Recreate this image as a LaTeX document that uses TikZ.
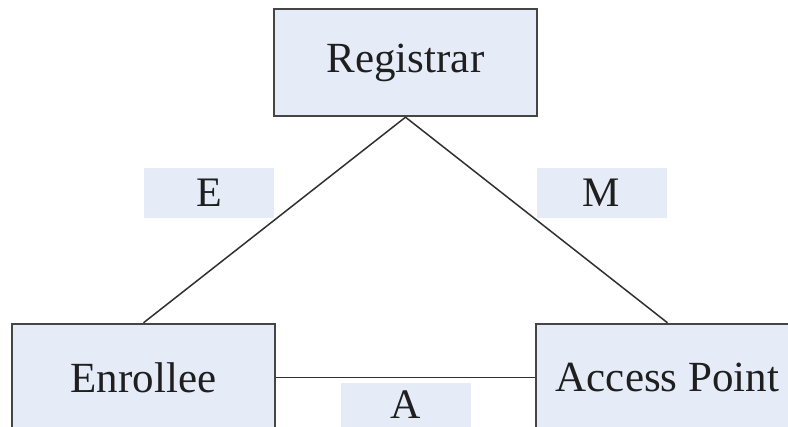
\documentclass[tikz,border=0pt]{standalone}
\usepackage{fontspec}
\setmainfont{Liberation Serif}
\definecolor{boxfill}{HTML}{E6ECF7}
\definecolor{boxline}{HTML}{454545}
\definecolor{linkline}{HTML}{303030}
\begin{document}
\begin{tikzpicture}[x=1pt,y=1pt,
  entity/.style={draw=boxline, line width=2.4pt, fill=boxfill,
    minimum width=263pt, minimum height=107pt, inner sep=0pt,
    font=\fontsize{43}{50}\selectfont, text=black!88},
  tag/.style={fill=boxfill, minimum width=130pt, minimum height=50pt,
    inner sep=0pt, font=\fontsize{42}{48}\selectfont, text=black!88},
  link/.style={draw=linkline, line width=1.5pt}]
  \useasboundingbox (0,0) rectangle (788,427);
  \clip (0,0) rectangle (788,427);
  \fill[white] (0,0) rectangle (788,427);

  % parties
  \node[entity] (reg) at (405.5,364.5) {Registrar};
  \node[entity] (enr) at (143.5,49.5) {Enrollee};
  \node[entity] (ap)  at (667.5,49.5) {Access Point};

  % interface labels
  \node[tag] (e) at (209,234) {E};
  \node[tag] (m) at (601.5,234) {M};
  \node[tag, minimum height=44pt] (a) at (406,22) {A};

  % links between parties
  \draw[link] (enr.north) -- (reg.south);
  \draw[link] (ap.north) -- (reg.south);
  \draw[link] (enr.east) -- (ap.west);
\end{tikzpicture}
\end{document}
